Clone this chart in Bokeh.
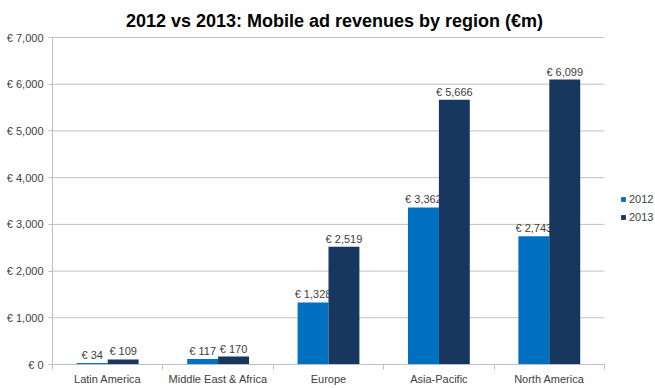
from bokeh.plotting import figure
from bokeh.models import (Range1d, FixedTicker, CustomJSTickFormatter, Label,
                          Legend, LegendItem, ColumnDataSource)
from bokeh.core.properties import value
from bokeh.embed import file_html
from bokeh.resources import INLINE

categories = ["Latin America", "Middle East & Africa", "Europe", "Asia-Pacific", "North America"]
rev_2012 = [34, 117, 1328, 3362, 2743]
rev_2013 = [109, 170, 2519, 5666, 6099]
series_names = ["2012", "2013"]
y_ticks = [0, 1000, 2000, 3000, 4000, 5000, 6000, 7000]
title_text = "2012 vs 2013: Mobile ad revenues by region (€m)"

FONT = "Liberation Sans"
C2012 = "#0070C0"
C2013 = "#17375E"
TXT = "#404040"
GRID = "#BFBFBF"

W, H = 655, 388
LEFT, BOTTOM = 52, 24            # space for the axes
PLOT_W, PLOT_H = 552, 327        # visible plotting area (gridded region)
FRAME_W, FRAME_H = W - LEFT, H - BOTTOM

n = len(categories)
centers = [i + 0.5 for i in range(n)]
bounds = [float(i) for i in range(n + 1)]
bw = 0.28
x_end = n * FRAME_W / PLOT_W
y_end = y_ticks[-1] * FRAME_H / PLOT_H

p = figure(width=W, height=H, output_backend="svg", toolbar_location=None, title=None,
           x_range=Range1d(0, x_end), y_range=Range1d(y_ticks[0], y_end),
           min_border_left=LEFT, min_border_right=0, min_border_top=0, min_border_bottom=BOTTOM)
p.outline_line_color = None
p.background_fill_color = "white"
p.border_fill_color = "white"
p.xgrid.grid_line_color = None
p.ygrid.grid_line_color = None

# horizontal gridlines limited to the category span
p.segment(x0=[0] * len(y_ticks), x1=[n] * len(y_ticks), y0=y_ticks, y1=y_ticks,
          line_color=GRID, line_width=1)

src12 = ColumnDataSource(dict(x=[c - bw / 2 for c in centers], y=rev_2012,
                              t=[f"€ {v:,}" for v in rev_2012]))
src13 = ColumnDataSource(dict(x=[c + bw / 2 for c in centers], y=rev_2013,
                              t=[f"€ {v:,}" for v in rev_2013]))

r12 = p.vbar(x="x", top="y", width=bw, bottom=0, source=src12, fill_color=C2012, line_color=None)
p.text(x="x", y="y", text="t", source=src12, text_align="center", text_baseline="alphabetic",
       y_offset=-8, text_font=value(FONT), text_font_size="11px", text_color=TXT)
r13 = p.vbar(x="x", top="y", width=bw, bottom=0, source=src13, fill_color=C2013, line_color=None)
p.text(x="x", y="y", text="t", source=src13, text_align="center", text_baseline="alphabetic",
       y_offset=-8, text_font=value(FONT), text_font_size="11px", text_color=TXT)

# axes
xa = p.xaxis[0]
xa.bounds = (0, n)
xa.ticker = FixedTicker(ticks=centers, minor_ticks=bounds)
xa.major_label_overrides = {c: name for c, name in zip(centers, categories)}
xa.major_tick_line_color = None
xa.major_tick_out = 0
xa.major_tick_in = 0
xa.minor_tick_out = 5
xa.minor_tick_in = 0
xa.minor_tick_line_color = GRID
xa.axis_line_color = GRID
xa.major_label_standoff = 3
xa.major_label_text_font = FONT
xa.major_label_text_font_size = "11px"
xa.major_label_text_color = TXT

ya = p.yaxis[0]
ya.bounds = (y_ticks[0], y_ticks[-1])
ya.ticker = FixedTicker(ticks=y_ticks)
ya.formatter = CustomJSTickFormatter(code="return '€ ' + tick.toLocaleString('en-US');")
ya.axis_line_color = GRID
ya.major_tick_line_color = GRID
ya.major_tick_out = 4
ya.major_tick_in = 0
ya.minor_tick_line_color = None
ya.major_label_standoff = 5
ya.major_label_text_font = FONT
ya.major_label_text_font_size = "11px"
ya.major_label_text_color = TXT

# title (screen units, relative to the plotting frame)
p.add_layout(Label(x=282, y=FRAME_H - 20, x_units="screen", y_units="screen", text=title_text,
                   text_align="center", text_baseline="alphabetic", text_font=FONT,
                   text_font_size="18px", text_font_style="bold", text_color="#000000"))

legend = Legend(items=[LegendItem(label=series_names[0], renderers=[r12]),
                       LegendItem(label=series_names[1], renderers=[r13])],
                location=(568, 141), orientation="vertical",
                glyph_width=6, glyph_height=6, label_standoff=3, label_height=12,
                label_width=10, spacing=6, padding=0, margin=0,
                border_line_color=None, background_fill_alpha=0,
                label_text_font=FONT, label_text_font_size="11px", label_text_color=TXT)
p.add_layout(legend)

open("out.html", "w").write(file_html(p, INLINE))
